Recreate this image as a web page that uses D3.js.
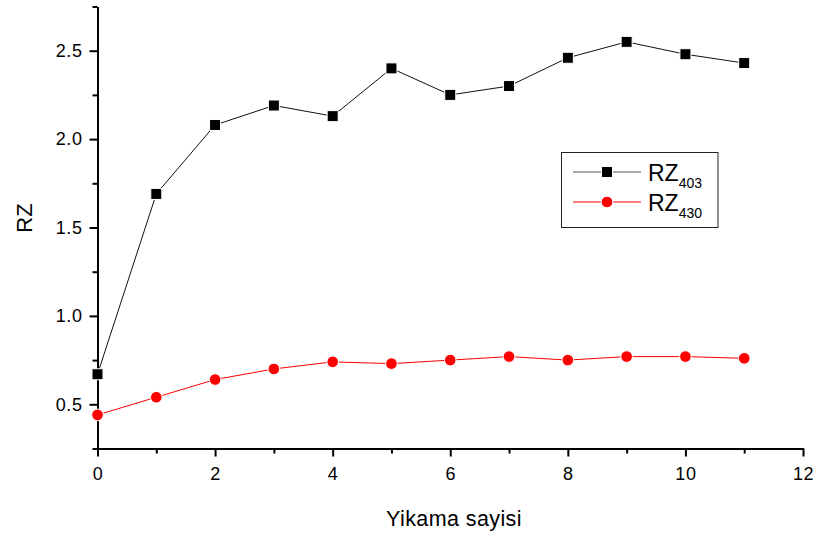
<!DOCTYPE html>
<html>
<head>
<meta charset="utf-8">
<script src="https://cdn.jsdelivr.net/npm/d3@7/dist/d3.min.js"></script>
<style>
  html, body { margin: 0; padding: 0; background: #fff; }
  svg { display: block; font-family: "Liberation Sans", Arial, sans-serif; }
</style>
</head>
<body>
<svg id="chart" width="815" height="535"></svg>
<script>
// Washing cycles and the two RZ ratios
const washCount = [0, 1, 2, 3, 4, 5, 6, 7, 8, 9, 10, 11];
const rz403 = [0.67, 1.69, 2.08, 2.19, 2.13, 2.40, 2.25, 2.30, 2.46, 2.55, 2.48, 2.43];
const rz430 = [0.44, 0.54, 0.64, 0.70, 0.74, 0.73, 0.75, 0.77, 0.75, 0.77, 0.77, 0.76];
const xTicks = [0, 2, 4, 6, 8, 10, 12];
const yTicks = [0.5, 1.0, 1.5, 2.0, 2.5];

const svg = d3.select("#chart");
const plotLeft = 97.5, plotRight = 803, plotTop = 6.5, plotBottom = 448.5;

const x = d3.scaleLinear().domain([0, 12]).range([plotLeft, plotRight]);
const y = d3.scaleLinear().domain([0.25, 2.75]).range([plotBottom, plotTop]);

// Axes: major ticks labelled, minor ticks halfway between
const axisG = svg.append("g");
const xAxis = d3.axisBottom(x).tickValues(xTicks).tickSize(8).tickSizeOuter(0).tickFormat(d3.format("d"));
const xMinor = d3.axisBottom(x).tickValues([1, 3, 5, 7, 9, 11]).tickSize(5).tickSizeOuter(0).tickFormat("");
const yAxis = d3.axisLeft(y).tickValues(yTicks).tickSize(8).tickSizeOuter(0).tickFormat(d3.format(".1f"));
const yMinor = d3.axisLeft(y).tickValues([0.25, 0.75, 1.25, 1.75, 2.25, 2.75]).tickSize(5).tickSizeOuter(0).tickFormat("");

function styleAxis(g) {
  g.selectAll("path.domain").attr("stroke", "#000").attr("stroke-width", 2);
  g.selectAll(".tick line").attr("stroke", "#000").attr("stroke-width", 2);
  g.selectAll(".tick text").attr("fill", "#000").style("font-size", "18px")
    .style("letter-spacing", "0.6px")
    .style("font-family", "'Liberation Sans', Arial, sans-serif");
}

axisG.append("g").attr("transform", `translate(0,${plotBottom})`).call(xMinor).call(styleAxis);
axisG.append("g").attr("transform", `translate(0,${plotBottom})`).call(xAxis).call(styleAxis)
  .selectAll(".tick text").attr("y", 31.5).attr("dy", 0);
axisG.append("g").attr("transform", `translate(${plotLeft},0)`).call(yMinor).call(styleAxis);
axisG.append("g").attr("transform", `translate(${plotLeft},0)`).call(yAxis).call(styleAxis)
  .selectAll(".tick text").attr("x", -15);

// Axis titles
svg.append("text").attr("x", 454).attr("y", 526).attr("text-anchor", "middle")
  .style("font-size", "21.5px").style("letter-spacing", "0.4px").text("Yikama sayisi");
svg.append("text").attr("transform", "translate(31.5,218) rotate(-90)").attr("text-anchor", "middle")
  .style("font-size", "22px").text("RZ");

const line = d3.line().x((d, i) => x(washCount[i])).y(d => y(d));

// RZ430 series (red circles)
svg.append("path").datum(rz430).attr("d", line).attr("fill", "none")
  .attr("stroke", "#ff0000").attr("stroke-width", 1);
svg.append("g").selectAll("circle").data(rz430).join("circle")
  .attr("cx", (d, i) => x(washCount[i])).attr("cy", d => y(d)).attr("r", 5.8)
  .attr("fill", "#ff0000").attr("stroke", "#fff").attr("stroke-width", 1);

// RZ403 series (black squares)
svg.append("path").datum(rz403).attr("d", line).attr("fill", "none")
  .attr("stroke", "#111").attr("stroke-width", 1);
svg.append("g").selectAll("rect").data(rz403).join("rect")
  .attr("x", (d, i) => x(washCount[i]) - 5.5).attr("y", d => y(d) - 5.5)
  .attr("width", 11).attr("height", 11)
  .attr("fill", "#000").attr("stroke", "#fff").attr("stroke-width", 1);

// Legend
const legend = svg.append("g");
legend.append("rect").attr("x", 561.5).attr("y", 152.5).attr("width", 156.5).attr("height", 75)
  .attr("fill", "#fff").attr("stroke", "#222").attr("stroke-width", 1);
const items = [
  { name: "403", color: "#555", shape: "square", cy: 172 },
  { name: "430", color: "#ff0000", shape: "circle", cy: 202 }
];
items.forEach(it => {
  legend.append("line").attr("x1", 573).attr("x2", 641).attr("y1", it.cy).attr("y2", it.cy)
    .attr("stroke", it.color).attr("stroke-width", 1);
  if (it.shape === "square") {
    legend.append("rect").attr("x", 601.5).attr("y", it.cy - 5.5).attr("width", 11).attr("height", 11)
      .attr("fill", "#000").attr("stroke", "#fff").attr("stroke-width", 1);
  } else {
    legend.append("circle").attr("cx", 607).attr("cy", it.cy).attr("r", 5.8)
      .attr("fill", "#ff0000").attr("stroke", "#fff").attr("stroke-width", 1);
  }
  const t = legend.append("text").attr("x", 648).attr("y", it.cy + 8.7).style("font-size", "23px");
  t.append("tspan").text("RZ");
  t.append("tspan").attr("dy", 7).style("font-size", "14px").text(it.name);
});
</script>
</body>
</html>
